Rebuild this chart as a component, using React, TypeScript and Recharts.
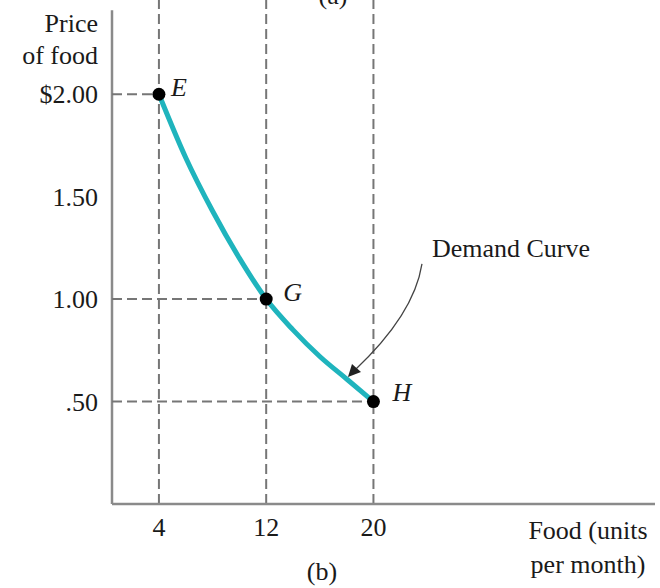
import { ComposedChart, Line, Scatter, XAxis, YAxis, ReferenceLine, ReferenceDot, Customized, LabelList } from 'recharts';

const serif = '"Liberation Serif", "Times New Roman", serif';
const FS = 26;
const ink = '#1a1a1a';

// demand curve
const quantity = [4, 6, 8, 10, 12, 14, 16, 18, 20];
const price = [2.0, 1.69, 1.43, 1.2, 1.0, 0.85, 0.72, 0.61, 0.5];

// labelled points
const pointNames = ['E', 'G', 'H'];
const pointQty = [4, 12, 20];
const pointPrice = [2.0, 1.0, 0.5];

const xTicks = [4, 12, 20];
const yTicks = [0.5, 1, 1.5, 2];
const yTickLabels = ['.50', '1.00', '1.50', '$2.00'];

// where the "Demand Curve" arrow points
const arrowTip = { x: 18.1, y: 0.62 };

const curve = quantity.map((q, i) => ({ q, p: price[i] }));
const points = pointNames.map((name, i) => ({ q: pointQty[i], p: pointPrice[i], name }));

const X_MIN = 0.5;
const X_MAX = 41;
const Y_TOP = 2.46;
const AXIS_TOP = 2.41;

const axisColor = '#8a8a8a';
const dashColor = '#767676';

function PointLabel(props: any) {
  const { x, y, width, height, value } = props;
  const cx = x + width / 2;
  const cy = y + height / 2;
  const off: Record<string, [number, number]> = { E: [12, -7], G: [17, -7], H: [19, -10] };
  const [dx, dy] = off[value] || [12, -7];
  return (
    <text x={cx + dx} y={cy + dy} dy="0.35em" fontFamily={serif} fontStyle="italic" fontSize={FS} fill={ink}>
      {value}
    </text>
  );
}

function Arrow(props: any) {
  const { cx, cy } = props;
  if (cx == null) return null;
  // curved leader from the label down to the curve
  const sx = cx + 74;
  const sy = cy - 113;
  const d = `M${sx},${sy} Q${cx + 66},${cy - 62} ${cx + 6},${cy - 6}`;
  return (
    <g>
      <path d={d} fill="none" stroke="#444" strokeWidth={1.3} />
      <path d={`M${cx},${cy} L${cx + 4},${cy - 13} L${cx + 13},${cy - 5} Z`} fill="#222" />
      <text x={cx + 163} y={cy - 129} textAnchor="middle" dy="0.35em" fontFamily={serif} fontSize={FS} fill={ink}>
        Demand Curve
      </text>
    </g>
  );
}

function Titles() {
  return (
    <g fontFamily={serif} fontSize={FS} fill={ink}>
      <text x={98} y={23} textAnchor="end" dy="0.35em">Price</text>
      <text x={98} y={55} textAnchor="end" dy="0.35em">of food</text>
      <text x={588} y={530} textAnchor="middle" dy="0.35em">Food (units</text>
      <text x={588} y={564} textAnchor="middle" dy="0.35em">per month)</text>
      <text x={322} y={571} textAnchor="middle" dy="0.35em">(b)</text>
      <text x={333} y={-5} textAnchor="middle" dy="0.35em">(a)</text>
    </g>
  );
}

export default function App() {
  return (
    <div style={{ position: 'absolute', left: 0, top: 0, background: '#fff' }}>
      <ComposedChart
        width={660}
        height={588}
        data={curve}
        margin={{ top: 0, right: 5, left: 0, bottom: 44 }}
      >
        <XAxis
          type="number"
          dataKey="q"
          domain={[X_MIN, X_MAX]}
          ticks={xTicks}
          allowDataOverflow
          tickLine={false}
          tickSize={6}
          tickMargin={8}
          height={40}
          axisLine={{ stroke: axisColor, strokeWidth: 2.5 }}
          tick={{ fill: ink, fontSize: FS, fontFamily: serif }}
        />
        <YAxis
          type="number"
          domain={[0, Y_TOP]}
          ticks={yTicks}
          allowDataOverflow
          width={112}
          axisLine={false}
          tickLine={false}
          tickSize={6}
          tickMargin={8}
          tickFormatter={(v: number) => yTickLabels[yTicks.indexOf(v)] ?? ''}
          tick={{ fill: ink, fontSize: FS, fontFamily: serif }}
        />

        {/* y axis line stops a little below the top */}
        <ReferenceLine
          segment={[{ x: X_MIN, y: 0 }, { x: X_MIN, y: AXIS_TOP }]}
          stroke={axisColor}
          strokeWidth={2.5}
          ifOverflow="visible"
        />

        {points.map((pt) => (
          <ReferenceLine
            key={'v' + pt.name}
            segment={[{ x: pt.q, y: 0 }, { x: pt.q, y: Y_TOP }]}
            stroke={dashColor}
            strokeWidth={2}
            strokeDasharray="10 5"
            ifOverflow="visible"
          />
        ))}
        {points.map((pt) => (
          <ReferenceLine
            key={'h' + pt.name}
            segment={[{ x: X_MIN, y: pt.p }, { x: pt.q, y: pt.p }]}
            stroke={dashColor}
            strokeWidth={2}
            strokeDasharray="10 5"
            ifOverflow="visible"
          />
        ))}

        <Line
          type="monotone"
          dataKey="p"
          stroke="#1fb4bd"
          strokeWidth={5}
          dot={false}
          activeDot={false}
          isAnimationActive={false}
        />
        <Scatter data={points} dataKey="p" fill="#000" isAnimationActive={false} shape={(p: any) => <circle cx={p.cx} cy={p.cy} r={6.5} fill="#000" />}>
          <LabelList dataKey="name" content={<PointLabel />} />
        </Scatter>

        <ReferenceDot x={arrowTip.x} y={arrowTip.y} ifOverflow="visible" shape={(p: any) => <Arrow {...p} />} />

        <Customized component={<Titles />} />
      </ComposedChart>
    </div>
  );
}
